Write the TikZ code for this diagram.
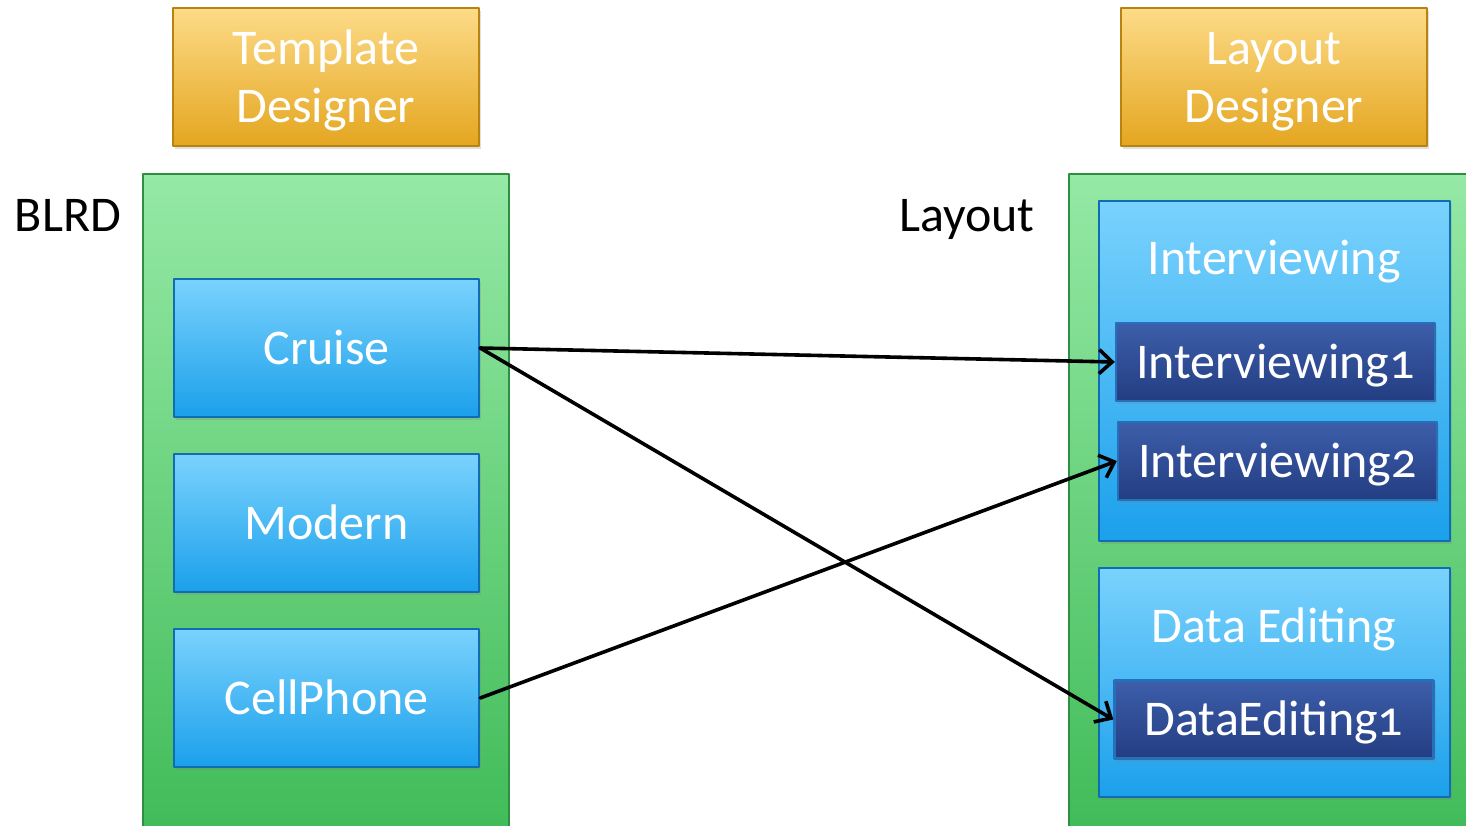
\documentclass[tikz,border=0pt]{standalone}
\usepackage{fontspec}
\setmainfont{Carlito}[Numbers=OldStyle]
\usetikzlibrary{arrows.meta}
\usetikzlibrary{shadows}
\usetikzlibrary{positioning}

\definecolor{goldtop}{HTML}{FDDB88}
\definecolor{goldbot}{HTML}{E4A620}
\definecolor{goldline}{HTML}{B9830F}
\definecolor{greentop}{HTML}{95E9A5}
\definecolor{greenbot}{HTML}{40BB58}
\definecolor{greenline}{HTML}{2F8F40}
\definecolor{bluetop}{HTML}{7AD2FD}
\definecolor{bluebot}{HTML}{1BA0EB}
\definecolor{blueline}{HTML}{0E6DB3}
\definecolor{navytop}{HTML}{3D5EAA}
\definecolor{navybot}{HTML}{233D82}
\definecolor{navyline}{HTML}{2470BD}

\newcommand{\boxfont}{\fontsize{25}{29}\selectfont}
\newcommand{\topstrut}{\rule{0pt}{21pt}}

\begin{document}
\begin{tikzpicture}[x=0.5pt, y=-0.5pt, line cap=round, line join=round,
    shade/.style={drop shadow={opacity=0.25, shadow xshift=1pt, shadow yshift=-1.5pt}},
    fixtext/.style={text height=22.5pt, text depth=6.5pt},
    goldbox/.style={shade, draw=goldline, line width=1.2pt, top color=goldtop, bottom color=goldbot,
      text=white, font=\boxfont, align=center, inner sep=0pt, minimum width=153pt, minimum height=69pt},
    panel/.style={draw=greenline, line width=1pt, top color=greentop, bottom color=greenbot},
    bluebox/.style={shade, fixtext, draw=blueline, line width=1.2pt, top color=bluetop, bottom color=bluebot,
      text=white, font=\boxfont, inner sep=0pt, minimum width=152.5pt, minimum height=69pt},
    groupbox/.style={bluebox, minimum width=175.5pt},
    navybox/.style={shade, fixtext, draw=navyline, line width=1.2pt, top color=navytop, bottom color=navybot,
      text=white, font=\boxfont, inner sep=0pt, minimum width=159.5pt, minimum height=39pt},
    grouplabel/.style={fixtext, text=white, font=\boxfont, inner sep=0pt},
    caption/.style={fixtext, font=\boxfont, text=black, inner sep=0pt},
    link/.style={line width=1.8pt, -{Straight Barb[length=6.5pt, width=12pt, line width=1.8pt]}}]
  \clip (0,0) rectangle (1466,825);
  \fill[white] (0,0) rectangle (1466,825);
  %--- Designers
    \node[goldbox] (tmpl) at (326,77) {\topstrut Template\\Designer};
    \node[goldbox] (lay)  at (1274,77) {\topstrut Layout\\Designer};
  %--- BLRD
    \draw[panel] (143,174) rectangle (509,840);
    \node[caption] (blrd) at (68,215) {BLRD};
    \node[bluebox] (cruise)    at (326.5,348) {Cruise};
    \node[bluebox] (modern)    at (326.5,523) {Modern};
    \node[bluebox] (cellphone) at (326.5,698) {CellPhone};
  %--- Layout
    \draw[panel] (1069,174) rectangle (1490,840);
    \node[caption] (layout) at (967,215) {Layout};
    \node[groupbox, minimum height=170pt] (intv) at (1274.5,371) {};
    \node[grouplabel] (intvlbl) at (1274,258) {Interviewing};
    \node[navybox] (intv1) at (1275.5,362) {Interviewing1};
    \node[navybox] (intv2) at (1277.5,461) {Interviewing2};
    \node[groupbox, minimum height=114.5pt] (dedit) at (1274.5,682.5) {};
    \node[grouplabel] (deditlbl) at (1274,626) {Data Editing};
    \node[navybox] (dedit1) at (1274,719.5) {DataEditing1};
  %--- Links
    \draw[link] (cruise.east) -- (intv1.west);
    \draw[link] (cruise.east) -- (dedit1.west);
    \draw[link] (cellphone.east) -- (intv2.west);
\end{tikzpicture}
\end{document}
